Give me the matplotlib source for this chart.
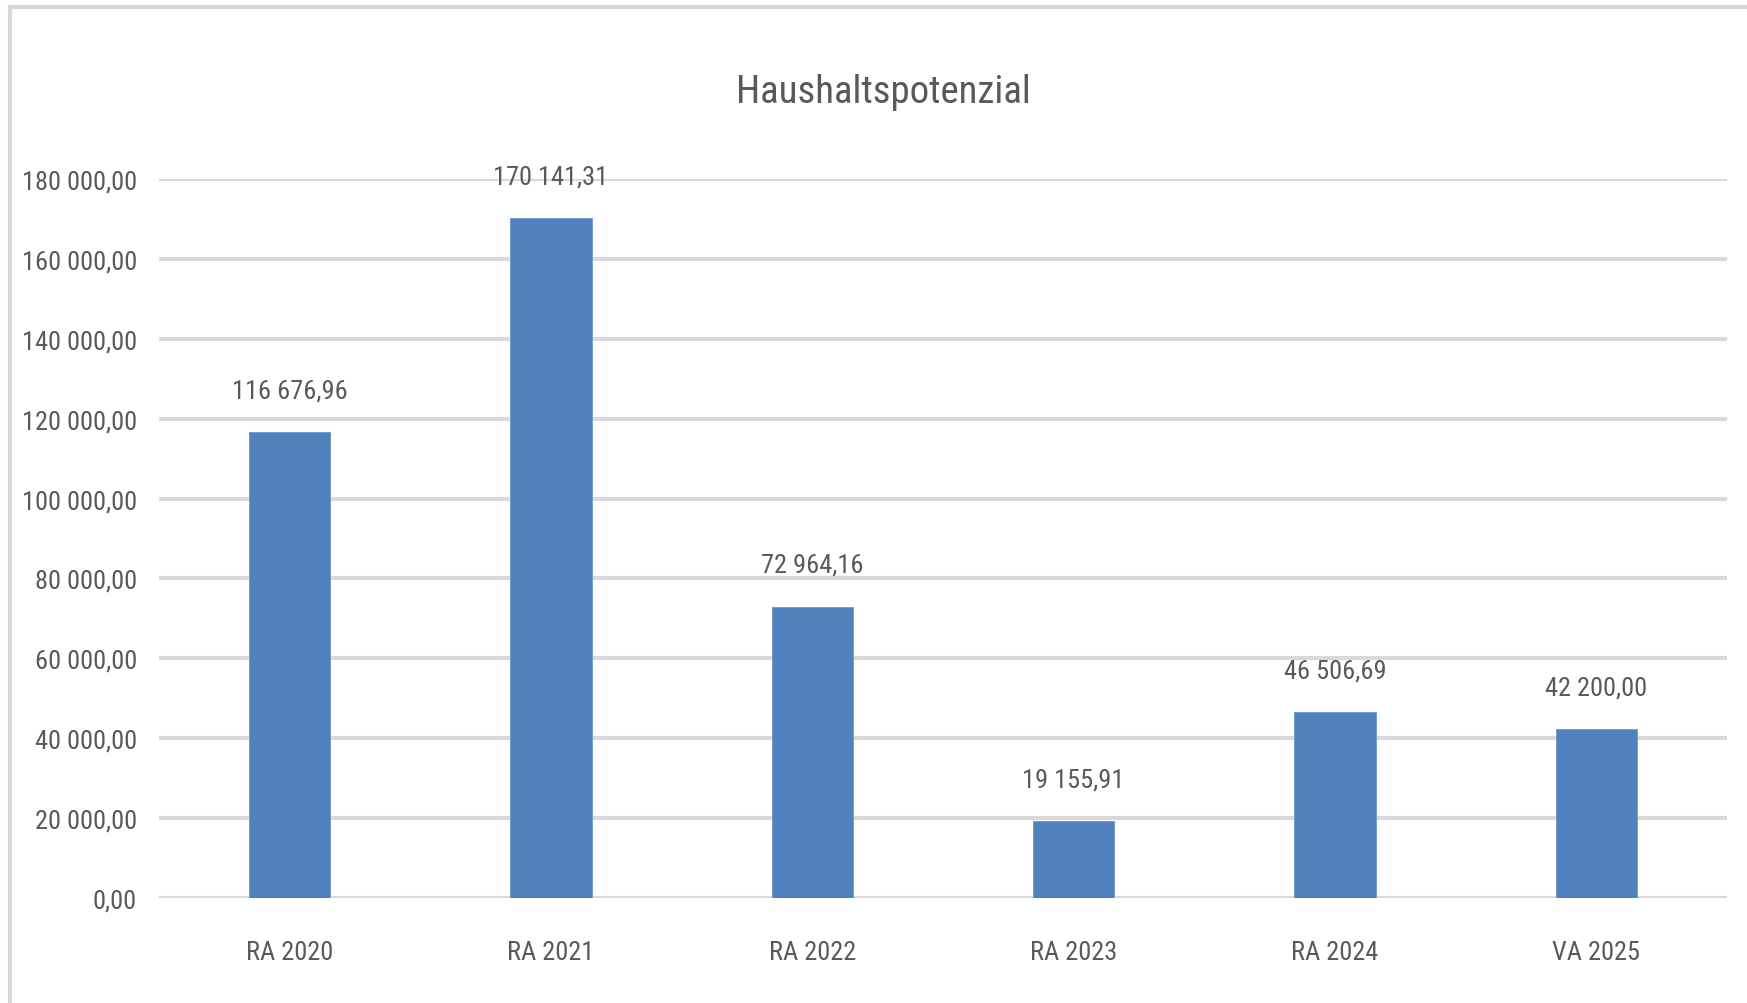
import matplotlib.pyplot as plt
from matplotlib.patches import Rectangle

# Daten
kategorien = ["RA 2020", "RA 2021", "RA 2022", "RA 2023", "RA 2024", "VA 2025"]
werte = [116676.96, 170141.31, 72964.16, 19155.91, 46506.69, 42200.00]
y_ticks = [0, 20000, 40000, 60000, 80000, 100000, 120000, 140000, 160000, 180000]

schrift = ['Roboto Condensed', 'DejaVu Sans']
textfarbe = '#595959'
balkenfarbe = '#4F81BD'
gitterfarbe = '#D9D9D9'


def format_de(v):
    # Tausender mit Leerzeichen, Dezimalkomma
    return f"{v:,.2f}".replace(',', ' ').replace('.', ',')


plt.rcParams['font.family'] = schrift
plt.rcParams['font.stretch'] = 'condensed'

fig = plt.figure(figsize=(17.47, 10.04), dpi=100)
ax = fig.add_axes([159 / 1747, 1 - 899 / 1004, (1727 - 159) / 1747, (899 - 180) / 1004])

x = list(range(len(kategorien)))
ax.bar(x, werte, width=0.31, color=balkenfarbe, edgecolor='#6A97CF', linewidth=0.6, zorder=3)

ax.set_xlim(-0.5, len(kategorien) - 0.5)
ax.set_ylim(0, 180000)
ax.set_yticks(y_ticks)
ax.set_yticklabels([format_de(t) for t in y_ticks])
ax.set_xticks(x)
ax.set_xticklabels(kategorien)

ax.tick_params(axis='y', length=0, pad=16, labelsize=19, labelcolor=textfarbe)
ax.tick_params(axis='x', length=0, pad=30, labelsize=19, labelcolor=textfarbe)
ax.grid(axis='y', color=gitterfarbe, linewidth=3, zorder=0)
ax.set_axisbelow(True)
for s in ax.spines.values():
    s.set_visible(False)

# Datenbeschriftungen
for xi, v in zip(x, werte):
    ax.annotate(format_de(v), (xi, v), xytext=(0, 25), textcoords='offset points',
                ha='center', va='baseline', fontsize=19, color=textfarbe)

# Titel
fig.text(883 / 1747, 1 - 103 / 1004, "Haushaltspotenzial", ha='center', va='baseline',
         fontsize=28, color=textfarbe)

# Rahmen des Diagramms
fig.add_artist(Rectangle((10 / 1747, -0.05), 1.1, 1 - 8 / 1004 + 0.05,
                         transform=fig.transFigure, fill=False,
                         edgecolor=gitterfarbe, linewidth=3, clip_on=False))

fig.savefig("out.png", dpi=100)
